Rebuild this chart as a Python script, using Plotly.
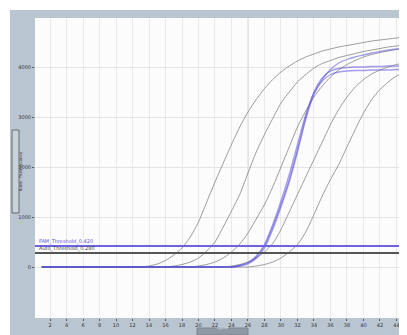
import plotly.graph_objects as go

cycles = list(range(1, 46))

# normalised fluorescence, in thousands (one value per cycle 1..45)
gray_a = [0, 0, 0, 0, 0, 0, 0, 0, 0, 0, 0, 0, 0,
          0.02, 0.06, 0.13, 0.24, 0.38, 0.6, 0.9, 1.3, 1.7, 2.08, 2.45, 2.8, 3.1, 3.35, 3.57, 3.75, 3.9,
          4.02, 4.12, 4.2, 4.26, 4.32, 4.36, 4.4, 4.43, 4.46, 4.49, 4.52, 4.54, 4.56, 4.58, 4.6]
gray_b = [0, 0, 0, 0, 0, 0, 0, 0, 0, 0, 0, 0, 0, 0, 0, 0,
          0.02, 0.05, 0.1, 0.18, 0.32, 0.5, 0.8, 1.12, 1.45, 1.88, 2.3, 2.65, 2.97, 3.28, 3.5, 3.7,
          3.85, 3.98, 4.07, 4.13, 4.19, 4.23, 4.27, 4.31, 4.34, 4.37, 4.4, 4.42, 4.44]
gray_c = [0, 0, 0, 0, 0, 0, 0, 0, 0, 0, 0, 0, 0, 0, 0, 0, 0, 0, 0,
          0.02, 0.05, 0.1, 0.18, 0.3, 0.46, 0.68, 0.96, 1.25, 1.6, 2.0, 2.4, 2.8, 3.12, 3.4, 3.62,
          3.8, 3.94, 4.05, 4.13, 4.2, 4.25, 4.29, 4.32, 4.35, 4.37]
gray_d = [0, 0, 0, 0, 0, 0, 0, 0, 0, 0, 0, 0, 0, 0, 0, 0, 0, 0, 0, 0, 0, 0, 0,
          0.02, 0.05, 0.1, 0.18, 0.3, 0.47, 0.75, 1.1, 1.45, 1.8, 2.15, 2.5, 2.85, 3.15, 3.4, 3.6,
          3.75, 3.86, 3.94, 4.0, 4.05, 4.08]
gray_e = [0, 0, 0, 0, 0, 0, 0, 0, 0, 0, 0, 0, 0, 0, 0, 0, 0, 0, 0, 0, 0, 0, 0, 0, 0, 0,
          0.02, 0.05, 0.1, 0.18, 0.3, 0.45, 0.7, 1.05, 1.42, 1.75, 2.05, 2.4, 2.75, 3.08, 3.35,
          3.55, 3.7, 3.82, 3.9]
blue_1 = [0, 0, 0, 0, 0, 0, 0, 0, 0, 0, 0, 0, 0, 0, 0, 0, 0, 0, 0, 0, 0, 0, 0, 0,
          0.03, 0.08, 0.2, 0.42, 0.8, 1.25, 1.75, 2.35, 3.0, 3.5, 3.78, 3.92, 3.97, 3.99, 4.0, 4.0,
          4.01, 4.01, 4.02, 4.02, 4.02]
blue_2 = [0, 0, 0, 0, 0, 0, 0, 0, 0, 0, 0, 0, 0, 0, 0, 0, 0, 0, 0, 0, 0, 0, 0, 0,
          0.02, 0.06, 0.17, 0.38, 0.75, 1.2, 1.7, 2.3, 2.95, 3.45, 3.75, 3.95, 4.08, 4.15, 4.2, 4.24,
          4.28, 4.31, 4.34, 4.36, 4.38]
blue_3 = [0, 0, 0, 0, 0, 0, 0, 0, 0, 0, 0, 0, 0, 0, 0, 0, 0, 0, 0, 0, 0, 0, 0, 0,
          0.03, 0.09, 0.22, 0.45, 0.85, 1.32, 1.85, 2.45, 3.05, 3.48, 3.72, 3.85, 3.9, 3.92, 3.93,
          3.93, 3.94, 3.94, 3.94, 3.95, 3.95]

gray_series = [gray_a, gray_b, gray_c, gray_d, gray_e]
blue_series = [blue_1, blue_2, blue_3]

threshold_blue = 0.42
threshold_black = 0.28
threshold_blue_label = "FAM_Threshold_0.420"
threshold_black_label = "Auto_Threshold_0.280"

x_ticks = list(range(2, 45, 2))
y_ticks = [0, 1, 2, 3, 4]
y_ticklabels = ["0", "1000", "2000", "3000", "4000"]

PANEL = "#b9c5d1"
OFF = 8  # page body margin of the html page

fig = go.Figure()

for s in gray_series:
    fig.add_trace(go.Scatter(x=cycles, y=s, mode="lines",
                             line=dict(color="rgba(105,105,105,0.65)", width=1, shape="spline", smoothing=0.6),
                             hoverinfo="skip", showlegend=False))
for s in blue_series:
    fig.add_trace(go.Scatter(x=cycles, y=s, mode="lines",
                             line=dict(color="rgba(90,80,220,0.55)", width=1.3, shape="spline", smoothing=0.6),
                             hoverinfo="skip", showlegend=False))

# threshold lines
fig.add_hline(y=threshold_black, line=dict(color="#555555", width=2))
fig.add_hline(y=threshold_blue, line=dict(color="#6c63e2", width=2))
fig.add_annotation(x=0.005, xref="paper", y=threshold_blue, yref="y", text=threshold_blue_label,
                   showarrow=False, xanchor="left", yanchor="bottom", yshift=-1,
                   font=dict(size=5, color="#5a52d6", family="DejaVu Sans"))
fig.add_annotation(x=0.005, xref="paper", y=threshold_black, yref="y", text=threshold_black_label,
                   showarrow=False, xanchor="left", yanchor="bottom", yshift=-1,
                   font=dict(size=5, color="#444444", family="DejaVu Sans"))

# darker vertical markers
for c in [8, 26]:
    fig.add_vline(x=c, line=dict(color="#cdcdcd", width=1), layer="below")

W, H = 367.0, 300.0
def px(xp):
    return (xp - 35) / W
def py(yp):
    return (318 - yp) / H

# white outer strips (top & left)
fig.add_shape(type="rect", xref="paper", yref="paper", x0=px(-2), x1=px(10), y0=py(345), y1=py(-2),
              fillcolor="white", line=dict(width=0), layer="below")
fig.add_shape(type="rect", xref="paper", yref="paper", x0=px(-2), x1=px(412), y0=py(10), y1=py(-2),
              fillcolor="white", line=dict(width=0), layer="below")

# y-axis title box
fig.add_shape(type="rect", xref="paper", yref="paper", x0=px(12), x1=px(19), y0=py(213), y1=py(130),
              fillcolor="#c9d3dc", line=dict(color="#6a6a6a", width=1))
fig.add_annotation(x=px(15.5), y=py(171.5), xref="paper", yref="paper", text="Norm. Fluorescence",
                   textangle=-90, showarrow=False, font=dict(size=4, color="#333", family="DejaVu Sans"))

# x-axis title box
fig.add_shape(type="rect", xref="paper", yref="paper", x0=px(197), x1=px(248), y0=py(335), y1=py(328),
              fillcolor="#8d99a5", line=dict(color="#7a8591", width=1))
fig.add_annotation(x=px(222), y=py(331.5), xref="paper", yref="paper", text="Cycle",
                   showarrow=False, font=dict(size=4, color="#f0f0f0", family="DejaVu Sans"))

fig.update_layout(
    width=407 - OFF, height=335 - OFF,
    margin=dict(l=35 - OFF, r=5, t=18 - OFF, b=17),
    paper_bgcolor=PANEL,
    plot_bgcolor="#fcfcfd",
    showlegend=False,
    font=dict(family="DejaVu Sans", size=5, color="#333"),
)
fig.update_xaxes(range=[0.18, 44.67], tickvals=x_ticks, showgrid=True, gridcolor="#e9e9e9", gridwidth=1,
                 zeroline=False, showline=False, ticks="outside", ticklen=2, tickcolor="#555",
                 tickfont=dict(size=5, color="#333"))
fig.update_yaxes(range=[-1.02, 4.98], tickvals=y_ticks, ticktext=y_ticklabels, showgrid=True,
                 gridcolor="#e4e4e4", gridwidth=1, zeroline=False, showline=False,
                 ticks="outside", ticklen=2, tickcolor="#555", tickfont=dict(size=5, color="#333"))

fig.write_html("out.html")
